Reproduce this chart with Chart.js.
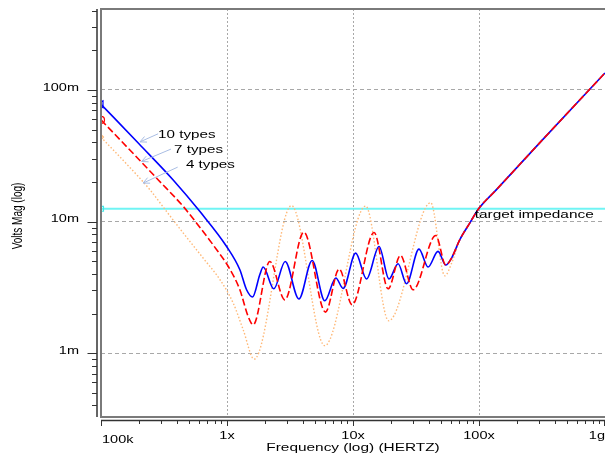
<!DOCTYPE html>
<html>
<head>
<meta charset="utf-8">
<script src="https://cdn.jsdelivr.net/npm/chart.js@4.4.1/dist/chart.umd.min.js"></script>
<style>
body{margin:0;background:#fff;}
#caja{width:605px;height:457px;position:relative;}
</style>
</head>
<body>
<div id="caja"><canvas id="grafica"></canvas></div>
<script>
// frecuencia en Hz, magnitud en volts
const freq10 = [1e5, 2e5, 3.74e5, 6.1e5, 9.93e5, 1.265e6, 1.43e6, 1.596e6, 1.82e6, 1.937e6, 2.353e6, 2.895e6, 3.72e6, 4.74e6, 5.97e6, 7.31e6, 8.35e6, 10.5e6, 12.8e6, 16.1e6, 19.3e6, 22.8e6, 26.6e6, 33.4e6, 39.4e6, 47.3e6];
const mag10 = [0.0778, 0.039, 0.0207, 0.0119, 0.00646, 0.0043, 0.00303, 0.00267, 0.00394, 0.00451, 0.00308, 0.00497, 0.00258, 0.00506, 0.0025, 0.00372, 0.0031, 0.00575, 0.00366, 0.00646, 0.00366, 0.00478, 0.00337, 0.00617, 0.00451, 0.00593];

const freq7 = [1e5, 2e5, 2.85e5, 4.5e5, 5.74e5, 8.28e5, 1.024e6, 1.265e6, 1.472e6, 1.614e6, 2.188e6, 2.877e6, 4.07e6, 6.05e6, 7.76e6, 9.84e6, 14.7e6, 19.0e6, 23.8e6, 30.0e6, 45.4e6];
const mag7 = [0.0592, 0.0296, 0.0207, 0.013, 0.00972, 0.0061, 0.00455, 0.00303, 0.0019, 0.00164, 0.00497, 0.00254, 0.00832, 0.00205, 0.00436, 0.00233, 0.00825, 0.00308, 0.00552, 0.00303, 0.00782];

const freq4 = [1e5, 2e5, 2.45e5, 3.32e5, 4.5e5, 6.47e5, 8.8e5, 1.12e6, 1.343e6, 1.644e6, 3.25e6, 5.97e6, 12.6e6, 19.2e6, 41.4e6, 53.5e6, 61e6];
const mag4 = [0.0438, 0.0217, 0.0174, 0.0119, 0.00817, 0.00527, 0.00361, 0.0024, 0.00151, 0.0009, 0.0132, 0.00114, 0.0131, 0.00176, 0.0139, 0.00387, 0.0049];

// tramo comun a alta frecuencia
const freqTail = [54.5e6, 60.7e6, 70.3e6, 84.4e6, 100e6, 137e6, 303e6, 1e9];
const magTail = [0.00467, 0.0053, 0.00726, 0.00972, 0.0126, 0.0174, 0.0396, 0.1346];

const freqTarget = [1e5, 1e9];
const magTarget = [0.0125, 0.0125];

const xTickValues = [1e5, 1e6, 1e7, 1e8, 1e9];
const xTickLabels = ['100k', '1x', '10x', '100x', '1g'];
const yTickValues = [1e-1, 1e-2, 1e-3];
const yTickLabels = ['100m', '10m', '1m'];

const notas = ['10 types', '7 types', '4 types'];
const notaPos = [[284e3, 0.0432], [380e3, 0.0332], [472e3, 0.0253]];
const flechaDe = [[284e3, 0.0464], [359e3, 0.0355], [406e3, 0.0259]];
const flechaA = [[204e3, 0.0403], [210e3, 0.0286], [216e3, 0.0196]];

function puntos(fs, vs){
    return fs.map((f, i) => ({x: f, y: vs[i]}));
}

const serie10 = puntos(freq10.concat(freqTail), mag10.concat(magTail));
const serie7 = puntos(freq7.concat(freqTail), mag7.concat(magTail));
const serie4 = puntos(freq4.concat(freqTail.slice(2)), mag4.concat(magTail.slice(2)));
const serieTarget = puntos(freqTarget, magTarget);

const FUENTE = '"Liberation Sans", Arial, sans-serif';

function texto(ctx, t, x, y, size, align, sx){
    ctx.save();
    ctx.translate(x, y);
    ctx.scale(sx, 1);
    ctx.font = size + 'px ' + FUENTE;
    ctx.textAlign = align;
    ctx.textBaseline = 'alphabetic';
    ctx.fillStyle = '#000';
    ctx.fillText(t, 0, 0);
    ctx.restore();
}

const marco = {
    id: 'marco',
    afterDraw(chart){
        const ctx = chart.ctx;
        const a = chart.chartArea;
        const x = chart.scales.x;
        const y = chart.scales.y;
        ctx.save();
        // borde del area
        ctx.strokeStyle = '#7a7a7a';
        ctx.lineWidth = 2;
        ctx.beginPath();
        ctx.moveTo(a.right, a.top);
        ctx.lineTo(a.left, a.top);
        ctx.lineTo(a.left, a.bottom);
        ctx.lineTo(a.right, a.bottom);
        ctx.stroke();
        // ejes
        const ax = a.left - 4;
        const ay = a.bottom + 3.5;
        ctx.strokeStyle = '#333';
        ctx.lineWidth = 1.5;
        ctx.beginPath();
        ctx.moveTo(ax, a.top);
        ctx.lineTo(ax, a.bottom);
        ctx.moveTo(a.left, ay);
        ctx.lineTo(a.right, ay);
        ctx.stroke();
        // marcas
        ctx.lineWidth = 1;
        ctx.beginPath();
        for(let d = 1e5; d <= 1e9; d *= 10){
            for(let m = 1; m <= 9; m++){
                const v = d * m;
                if(v > 1e9 * 1.0001) break;
                const px = Math.min(Math.round(x.getPixelForValue(v)) + 0.5, a.right - 0.5);
                ctx.moveTo(px, ay);
                ctx.lineTo(px, ay + (m == 1 ? 5.5 : 3.5));
            }
        }
        for(let d = 1e-4; d <= 1; d *= 10){
            for(let m = 1; m <= 9; m++){
                const v = d * m;
                if(v < y.min || v > y.max) continue;
                const py = Math.round(y.getPixelForValue(v)) + 0.5;
                ctx.moveTo(ax, py);
                ctx.lineTo(ax - (m == 1 ? 9.5 : 5), py);
            }
        }
        ctx.stroke();
        // etiquetas
        for(let i = 0; i < yTickValues.length; i++){
            texto(ctx, yTickLabels[i], a.left - 22, y.getPixelForValue(yTickValues[i]) + 0.7, 10, 'right', 1.45);
        }
        for(let i = 0; i < xTickValues.length; i++){
            const px = x.getPixelForValue(xTickValues[i]);
            if(i == 0) texto(ctx, xTickLabels[i], px + 1, a.bottom + 26, 10, 'left', 1.45);
            else if(i == xTickValues.length - 1) texto(ctx, xTickLabels[i], px, a.bottom + 21.5, 10, 'right', 1.45);
            else texto(ctx, xTickLabels[i], px, a.bottom + 21.5, 10, 'center', 1.45);
        }
        texto(ctx, 'Frequency (log) (HERTZ)', (a.left + a.right) / 2, a.bottom + 33.5, 11, 'center', 1.4);
        // titulo eje y, girado
        ctx.save();
        ctx.translate(18, 216);
        ctx.rotate(-Math.PI / 2);
        ctx.scale(1, 1.4);
        ctx.font = '10px ' + FUENTE;
        ctx.textAlign = 'center';
        ctx.textBaseline = 'middle';
        ctx.fillStyle = '#000';
        ctx.fillText('Volts Mag (log)', 0, 0);
        ctx.restore();
        // notas con flecha
        for(let i = 0; i < notas.length; i++){
            const x1 = x.getPixelForValue(flechaDe[i][0]);
            const y1 = y.getPixelForValue(flechaDe[i][1]);
            const x2 = x.getPixelForValue(flechaA[i][0]);
            const y2 = y.getPixelForValue(flechaA[i][1]);
            const ang = Math.atan2(y1 - y2, x1 - x2);
            ctx.strokeStyle = '#a9bde3';
            ctx.lineWidth = 1;
            ctx.beginPath();
            ctx.moveTo(x1, y1);
            ctx.lineTo(x2, y2);
            ctx.moveTo(x2 + 7 * Math.cos(ang - 0.45), y2 + 7 * Math.sin(ang - 0.45));
            ctx.lineTo(x2, y2);
            ctx.lineTo(x2 + 7 * Math.cos(ang + 0.45), y2 + 7 * Math.sin(ang + 0.45));
            ctx.stroke();
            texto(ctx, notas[i], x.getPixelForValue(notaPos[i][0]), y.getPixelForValue(notaPos[i][1]), 11, 'left', 1.38);
        }
        texto(ctx, 'target impedance', x.getPixelForValue(92.5e6), y.getPixelForValue(0.0107), 11, 'left', 1.4);
        ctx.restore();
    }
};

const primerPunto = (r) => (c) => c.dataIndex === 0 ? r : 0;

const grafica = new Chart(document.getElementById('grafica'), {
    type: 'line',
    data: {
        datasets: [{
            label: '7 types',
            data: serie7,
            borderColor: '#ff0000',
            borderWidth: 1.6,
            borderDash: [7, 3],
            cubicInterpolationMode: 'monotone',
            pointStyle: 'circle',
            pointRadius: primerPunto(3.5),
            pointBorderColor: '#ff0000',
            pointBackgroundColor: 'rgba(0,0,0,0)',
            pointBorderWidth: 1.2
        }, {
            label: '10 types',
            data: serie10,
            borderColor: '#0000ff',
            borderWidth: 1.6,
            cubicInterpolationMode: 'monotone',
            pointStyle: 'triangle',
            rotation: 270,
            pointRadius: primerPunto(4),
            pointBorderColor: '#0000ff',
            pointBackgroundColor: 'rgba(0,0,0,0)',
            pointBorderWidth: 1.2
        }, {
            label: '4 types',
            data: serie4,
            borderColor: '#ffb877',
            borderWidth: 1.4,
            borderDash: [1.5, 2],
            cubicInterpolationMode: 'monotone',
            pointStyle: 'rectRot',
            pointRadius: primerPunto(2.5),
            pointBorderColor: '#ffb877',
            pointBackgroundColor: 'rgba(0,0,0,0)',
            pointBorderWidth: 1.2
        }, {
            label: 'target impedance',
            data: serieTarget,
            borderColor: '#70f4f4',
            borderWidth: 2,
            pointStyle: 'rect',
            pointRadius: primerPunto(3.5),
            pointBorderColor: '#40e8e8',
            pointBackgroundColor: 'rgba(0,0,0,0)',
            pointBorderWidth: 1.2
        }]
    },
    options: {
        responsive: true,
        maintainAspectRatio: false,
        animation: false,
        events: [],
        layout: {autoPadding: false, padding: {top: 9, left: 0, right: 0, bottom: 0}},
        plugins: {legend: {display: false}, tooltip: {enabled: false}},
        scales: {
            x: {
                type: 'logarithmic',
                bounds: 'data',
                min: 1e5,
                max: 1e9,
                afterBuildTicks: (s) => { s.ticks = [1e6, 1e7, 1e8].map(v => ({value: v})); },
                afterFit: (s) => { s.height = 40; },
                ticks: {display: false},
                grid: {color: '#a8a8a8', lineWidth: 1, drawTicks: false},
                border: {display: false, dash: [2, 2]}
            },
            y: {
                type: 'logarithmic',
                bounds: 'data',
                min: 3.27e-4,
                max: 0.412,
                afterBuildTicks: (s) => { s.ticks = [1e-3, 1e-2, 1e-1].map(v => ({value: v})); },
                afterFit: (s) => { s.width = 101; },
                ticks: {display: false},
                grid: {color: '#a8a8a8', lineWidth: 1, drawTicks: false},
                border: {display: false, dash: [4, 3]}
            }
        }
    },
    plugins: [marco]
});
</script>
</body>
</html>
